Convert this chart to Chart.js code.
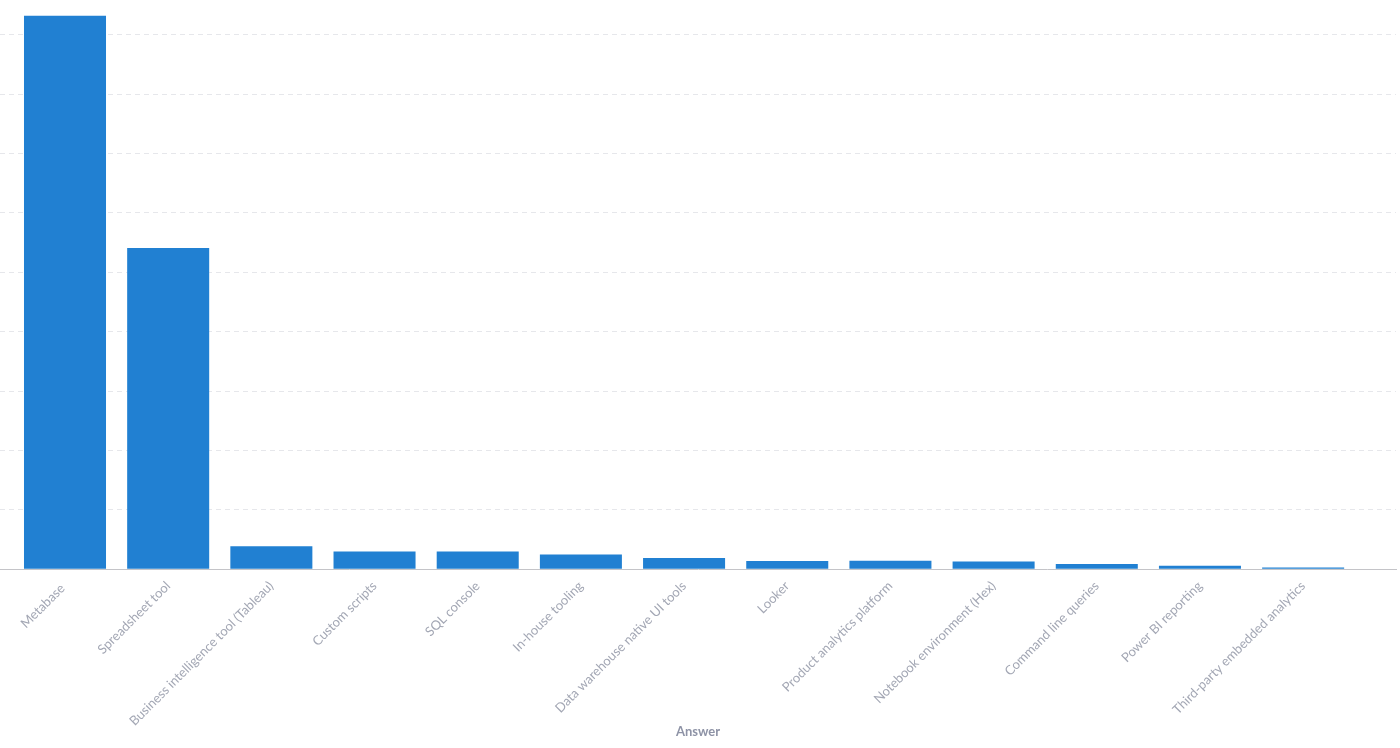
<!DOCTYPE html>
<html>
<head>
<meta charset="utf-8">
<title>Answer</title>
<script src="https://cdn.jsdelivr.net/npm/chart.js@4/dist/chart.umd.min.js"></script>
<style>
  html, body { margin: 0; padding: 0; background: #ffffff; }
  #wrap { width: 1400px; height: 748px; position: relative; }
</style>
</head>
<body>
<div id="wrap"><canvas id="answerChart"></canvas></div>
<script>
// answers (the reference labels are blurred, these are estimates of similar length)
const answerLabels = [
    'Metabase ',
    'Spreadsheet tool',
    'Business intelligence tool (Tableau)',
    'Custom scripts',
    'SQL console',
    'In-house tooling',
    'Data warehouse native UI tools',
    'Looker',
    'Product analytics platform',
    'Notebook environment (Hex)',
    'Command line queries',
    'Power BI reporting',
    'Third-party embedded analytics'
];
const answerCounts = [932, 541, 39, 30, 30, 25, 19, 14, 14.5, 13, 9, 6, 3];
const yMax = 950;
const yStep = 100;

const barColor = '#2180d2';
const gridColor = '#e6e7eb';
const labelColor = '#a3a7b4';
const titleColor = '#8e93a6';

const ctx = document.getElementById('answerChart');

window.answerChart = new Chart(ctx, {
    type: 'bar',
    data: {
        labels: answerLabels,
        datasets: [
            {
                label: 'Count',
                data: answerCounts,
                backgroundColor: barColor,
                borderWidth: 0,
                categoryPercentage: 1,
                barPercentage: 0.795
            }
        ]
    },
    options: {
        responsive: true,
        maintainAspectRatio: false,
        animation: false,
        layout: { padding: { top: 5, right: 4, bottom: 0, left: 0 } },
        plugins: {
            legend: { display: false },
            tooltip: { enabled: false }
        },
        scales: {
            x: {
                offset: true,
                // extra room after the last bar, as in the original axis
                afterBuildTicks: (scale) => {
                    scale._startValue = -0.63;
                    scale._valueRange = answerLabels.length + 0.53;
                },
                afterFit: (scale) => { scale.height = 178.7; },
                grid: { display: false },
                border: { display: true, color: '#c4c4c8', width: 1 },
                ticks: {
                    autoSkip: false,
                    maxRotation: 45,
                    minRotation: 45,
                    padding: 1,
                    color: labelColor,
                    font: { family: 'Lato', size: 13 }
                },
                title: {
                    display: true,
                    text: 'Answer',
                    color: titleColor,
                    font: { family: 'Lato', size: 13, weight: 'bold' },
                    padding: { top: 4, bottom: 8 }
                }
            },
            y: {
                min: 0,
                max: yMax,
                border: { display: false, dash: [5, 4] },
                ticks: { display: false, stepSize: yStep },
                grid: {
                    drawTicks: false,
                    color: (c) => (c.tick && c.tick.value > 0 && c.tick.value % yStep === 0) ? gridColor : 'rgba(0,0,0,0)',
                    lineWidth: 1
                },
                afterFit: (scale) => { scale.width = 0; }
            }
        }
    }
});
</script>
</body>
</html>
